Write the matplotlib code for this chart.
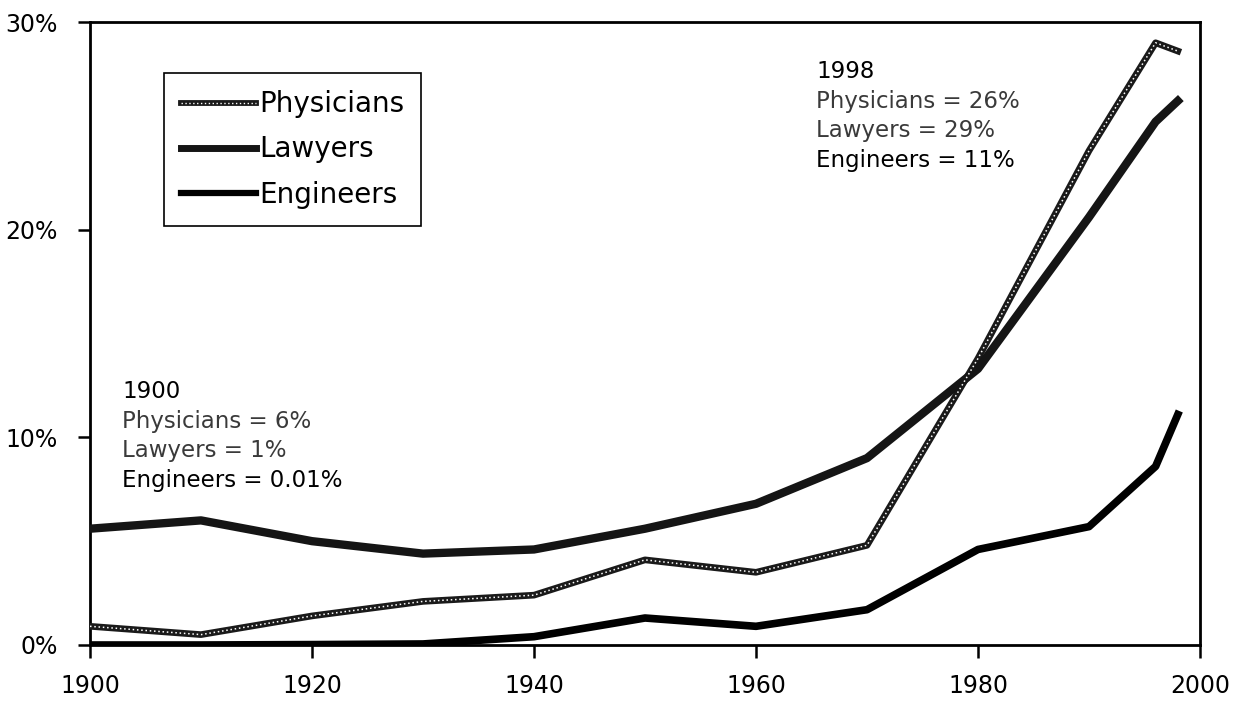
import matplotlib
matplotlib.use("Agg")
import matplotlib.pyplot as plt
from matplotlib.ticker import FuncFormatter
from matplotlib.lines import Line2D
from matplotlib.legend_handler import HandlerTuple

years = [1900, 1910, 1920, 1930, 1940, 1950, 1960, 1970, 1980, 1990, 1996, 1998]
# series as labelled in the chart's legend
physicians = [0.9, 0.5, 1.4, 2.1, 2.4, 4.1, 3.5, 4.8, 13.8, 23.8, 29.0, 28.6]
lawyers = [5.6, 6.0, 5.0, 4.4, 4.6, 5.6, 6.8, 9.0, 13.3, 20.6, 25.2, 26.2]
engineers = [0.0, 0.0, 0.02, 0.05, 0.4, 1.3, 0.9, 1.7, 4.6, 5.7, 8.6, 11.1]

x_ticks = [1900, 1920, 1940, 1960, 1980, 2000]
y_ticks = [0, 10, 20, 30]

note_1998 = ["1998", "Physicians = 26%", "Lawyers = 29%", "Engineers = 11%"]
note_1900 = ["1900", "Physicians = 6%", "Lawyers = 1%", "Engineers = 0.01%"]

plt.rcParams['font.family'] = ['DejaVu Sans']

fig = plt.figure(figsize=(12.47, 7.10), dpi=100)
ax = fig.add_axes([90/1247, 65/710, 1110/1247, 623/710])

dot_style = (0, (1.0, 1.8))
# Physicians: line with hollow-circle texture
ax.plot(years, physicians, color='#1a1a1a', lw=4.8, solid_joinstyle='round', zorder=3)
ax.plot(years, physicians, color='white', lw=1.1, linestyle=dot_style, zorder=4)
# Lawyers: thick dark line
ax.plot(years, lawyers, color='#151515', lw=6.0, solid_joinstyle='round', zorder=3)
# Engineers: thick black line
ax.plot(years, engineers, color='#000000', lw=5.5, solid_joinstyle='round', zorder=3)

ax.set_xlim(1900, 2000)
ax.set_ylim(0, 30)
ax.set_xticks(x_ticks)
ax.set_yticks(y_ticks)
ax.yaxis.set_major_formatter(FuncFormatter(lambda v, p: f"{int(v)}%"))
ax.tick_params(axis='both', direction='out', length=9, width=1.8, labelsize=17)
ax.tick_params(axis='x', pad=12)
ax.tick_params(axis='y', pad=14)
for s in ax.spines.values():
    s.set_linewidth(2.0)
    s.set_color('black')

# Legend (proxies mimicking the line styles)
h_ph = (Line2D([], [], color='#1a1a1a', lw=4.2), Line2D([], [], color='white', lw=1.0, linestyle=dot_style))
h_lw = Line2D([], [], color='#151515', lw=5.0)
h_en = Line2D([], [], color='#000000', lw=4.5)
leg = ax.legend([h_ph, h_lw, h_en], ["Physicians", "Lawyers", "Engineers"],
                handler_map={tuple: HandlerTuple(ndivide=1, pad=0)},
                loc='upper left', bbox_to_anchor=(74/1110, 1 - 51/623), fontsize=20,
                handlelength=2.7, handletextpad=0.1, labelspacing=0.62,
                borderpad=0.62, borderaxespad=0, fancybox=False, framealpha=1,
                edgecolor='black')
leg.get_frame().set_linewidth(1.2)

# Annotations
for i, t in enumerate(note_1998):
    ax.text(1965.4, 27.6 - i * 1.42, t, fontsize=16.5, ha='left', va='center',
            color='black' if i in (0, 3) else '#3a3a3a')
for i, t in enumerate(note_1900):
    ax.text(1902.9, 12.2 - i * 1.42, t, fontsize=16.5, ha='left', va='center',
            color='black' if i in (0, 3) else '#3a3a3a')

fig.savefig('out.png', dpi=100, facecolor='white')
